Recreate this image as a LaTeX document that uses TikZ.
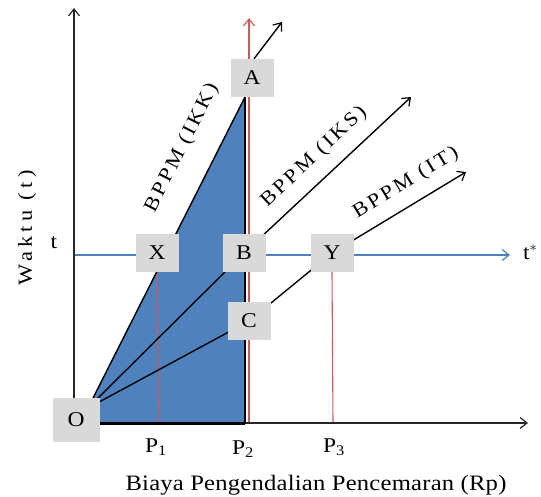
\documentclass[tikz,border=0pt]{standalone}
\usepackage{fontspec}
\setmainfont{Liberation Serif}[FakeStretch=1.12]
\usetikzlibrary{arrows.meta,backgrounds}
\definecolor{boxgray}{HTML}{D9D9D9}
\definecolor{fillblue}{HTML}{4F81BD}
\definecolor{redc}{HTML}{D05A5A}
\begin{document}
\begin{tikzpicture}[x=1pt,y=-1pt,
  lbl/.style={fill=boxgray, minimum width=43pt, minimum height=38pt, inner sep=0pt, font=\fontsize{21}{24}\selectfont},
  tip/.style={-{Straight Barb[length=7pt,width=11pt,line width=1.2pt]}},
  axisline/.style={line width=1.4pt, draw=black!85, tip},
  ray/.style={line width=1.4pt, draw=black},
  redline/.style={line width=1.1pt, draw=redc},
  bigtxt/.style={font=\fontsize{21}{24}\selectfont, inner sep=0pt},
  rotlbl/.style={font=\fontsize{20}{22}\selectfont\addfontfeature{LetterSpace=13}, inner sep=0pt}
]
\useasboundingbox (0,0) rectangle (541,496);

% nodes
\node[lbl] (A) at (252,78) {A};
\node[lbl] (X) at (157,253) {X};
\node[lbl] (B) at (244,253) {B};
\node[lbl] (Y) at (332,253) {Y};
\node[lbl] (C) at (249,321) {C};
\node[lbl, minimum width=47pt, minimum height=44pt] (O) at (76,420) {O};

\coordinate (conv) at (88,408);
\coordinate (apex) at (245,97);
\coordinate (base) at (245,423);
\coordinate (origin) at (74,423);
\coordinate (ytip) at (74,8);
\coordinate (xtip) at (528,423);
\coordinate (hstart) at (74,255);
\coordinate (htip) at (510,255);
\coordinate (p1) at (159,423);
\coordinate (p2) at (249,423);
\coordinate (p2tip) at (249,18);
\coordinate (p3) at (333,423);
\coordinate (tIKK) at (282,22);
\coordinate (tIKS) at (411,97);
\coordinate (tIT) at (466,172);

\begin{pgfonlayer}{background}
  \fill[fillblue] (conv) -- (apex) -- (base) -- (88,423) -- cycle;
  \draw[redline] (p1) -- (X.south);
  \draw[redline] (p3) -- (Y.south);
  \draw[redline, tip] (p2) -- (p2tip);
  \draw[line width=1.4pt, draw=fillblue, tip] (hstart) -- (htip);
  \draw[axisline] (origin) -- (ytip);
  \draw[axisline] (origin) -- (xtip);
  \draw[line width=3pt] (O.east |- base) -- (base);
  \draw[ray] (apex) -- (base);
  \draw[ray] (conv) -- (apex);
  \draw[ray, tip] (A.north) ++(2,0) -- (tIKK);
  \draw[ray] (conv) -- (B.center);
  \draw[ray, tip] (B.center) -- (tIKS);
  \draw[ray] (conv) -- (C.center) -- (Y.center);
  \draw[ray, tip] (Y.center) -- (tIT);
\end{pgfonlayer}

% texts
\node[bigtxt] (tl) at (54,243) {t};
\node[bigtxt, anchor=west] (ts) at (523,252) {t$^{*}$};
\node[bigtxt, anchor=base] (P1) at (156,452) {P\textsubscript{1}};
\node[bigtxt, anchor=base] (P2) at (243,454) {P\textsubscript{2}};
\node[bigtxt, anchor=base] (P3) at (334,452) {P\textsubscript{3}};
\node[font=\fontsize{22}{24}\selectfont\addfontfeature{LetterSpace=1}, inner sep=0pt, anchor=base] (title) at (316,490) {Biaya Pengendalian Pencemaran (Rp)};
\node[font=\fontsize{20}{24}\selectfont\addfontfeature{LetterSpace=22}, inner sep=0pt, rotate=90] (ylab) at (27,228) {Waktu (t)};
\node[rotlbl, rotate=63.2] (lIKK) at (182,148) {BPPM (IKK)};
\node[rotlbl, rotate=43.2] (lIKS) at (314,157) {BPPM (IKS)};
\node[rotlbl, rotate=31.3] (lIT) at (406,183) {BPPM (IT)};
\end{tikzpicture}
\end{document}
